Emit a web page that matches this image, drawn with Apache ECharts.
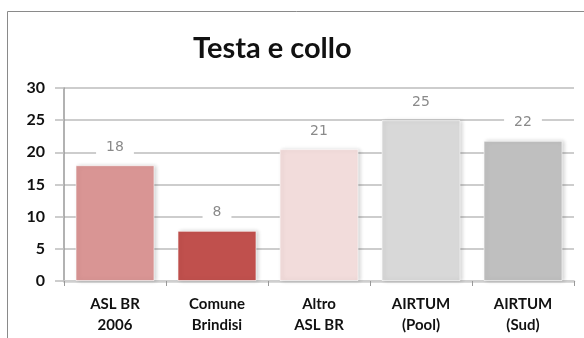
<!DOCTYPE html>
<html>
<head>
<meta charset="utf-8">
<script src="https://cdn.jsdelivr.net/npm/echarts@6/dist/echarts.min.js"></script>
<style>
  html, body { margin: 0; padding: 0; background: #fff; }
  #chart { width: 584px; height: 338px; }
</style>
</head>
<body>
<div id="chart"></div>
<script>
const categories = ['ASL BR\n2006', 'Comune\nBrindisi', 'Altro\nASL BR', 'AIRTUM\n(Pool)', 'AIRTUM\n(Sud)'];
const values = [18.0, 7.8, 20.5, 25.0, 21.8];
const barColors = ['#d99594', '#c0504d', '#f2dcdb', '#d8d8d8', '#bfbfbf'];

const chart = echarts.init(document.getElementById('chart'));

const option = {
  animation: false,
  graphic: [
    {
      type: 'rect',
      shape: { x: 7.5, y: 11.5, width: 620, height: 400 },
      style: { fill: 'none', stroke: '#8a8a8a', lineWidth: 1 },
      silent: true,
    },
  ],
  title: {
    text: 'Testa e collo',
    left: 188,
    top: 29,
    textStyle: {
      fontFamily: 'Lato',
      fontWeight: 'bold',
      fontSize: 29,
      color: '#111',
    },
  },
  grid: {
    left: 64,
    right: 10,
    top: 88,
    bottom: 57,
  },
  xAxis: {
    type: 'category',
    data: categories,
    axisLine: { lineStyle: { color: '#cfcfcf', width: 2.5 } },
    axisTick: { show: true, length: 5, lineStyle: { color: '#999' } },
    axisLabel: {
      color: '#111',
      fontFamily: 'Lato',
      fontWeight: 'bold',
      fontSize: 15,
      lineHeight: 21,
      margin: 13,
    },
  },
  yAxis: {
    type: 'value',
    min: 0,
    max: 30,
    interval: 5,
    axisLine: { show: true, lineStyle: { color: '#999', width: 1.5 } },
    axisTick: { show: true, length: 9, lineStyle: { color: '#bdbdbd', width: 1.5 } },
    splitLine: { lineStyle: { color: '#bdbdbd', width: 1.5 } },
    axisLabel: {
      color: '#111',
      fontFamily: 'Lato',
      fontWeight: 'bold',
      fontSize: 16,
      margin: 19,
    },
  },
  series: [
    {
      type: 'bar',
      barWidth: 79,
      data: values.map((v, i) => ({
        value: v,
        itemStyle: { color: barColors[i] },
      })),
      itemStyle: {
        borderColor: 'rgba(255,255,255,0.6)',
        borderWidth: 1,
        shadowColor: 'rgba(0,0,0,0.18)',
        shadowBlur: 4,
        shadowOffsetX: 2,
        shadowOffsetY: 0,
      },
      label: {
        show: true,
        position: 'top',
        distance: 10,
        color: '#8a8a8a',
        fontFamily: 'DejaVu Sans',
        fontSize: 14,
        backgroundColor: '#fff',
        padding: [1, 10],
        formatter: (p) => Math.round(p.value),
      },
    },
  ],
};

chart.setOption(option);
</script>
</body>
</html>
